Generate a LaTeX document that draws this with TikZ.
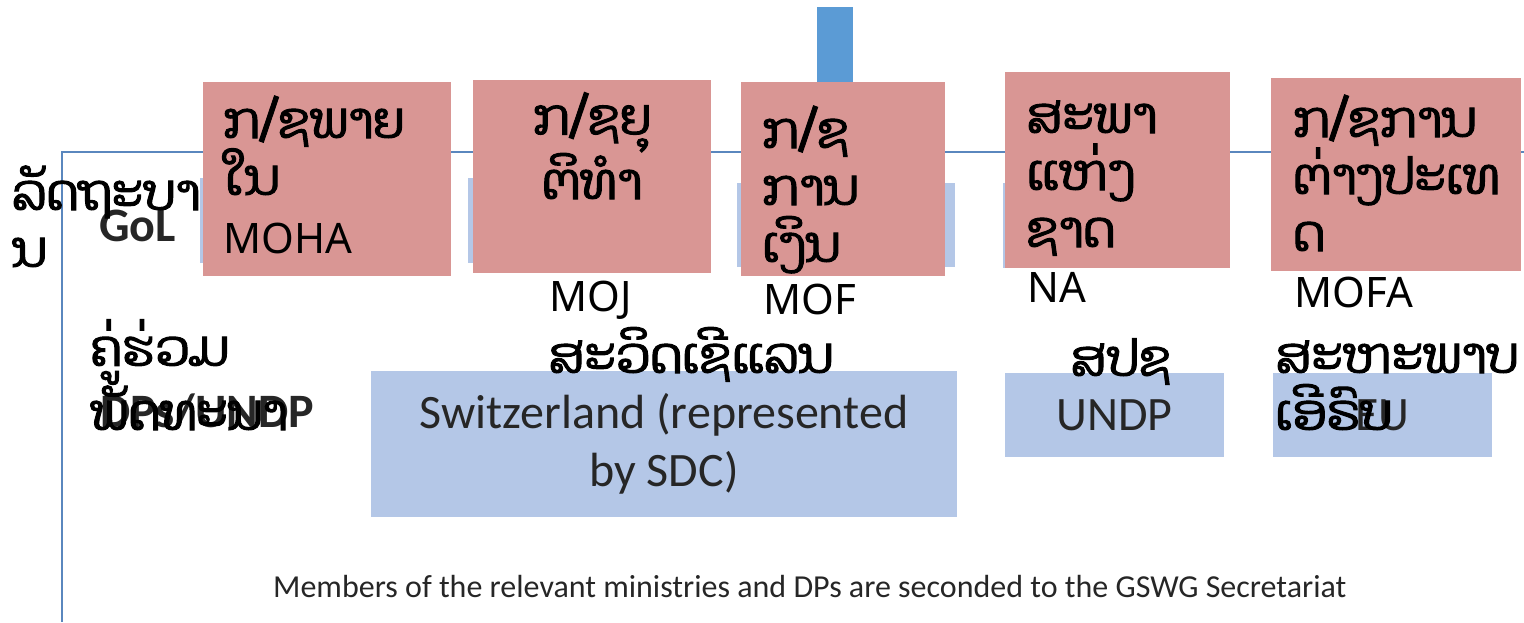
\documentclass[tikz,border=0pt]{standalone}
\usepackage{fontspec}
\setmainfont{Noto Sans}
\newfontfamily\laofont[Script=Lao,FakeBold=2]{Dhyana}
\newfontfamily\califont{Carlito}
\usepackage{tikz}

\definecolor{pinkfill}{HTML}{D99694}
\definecolor{palefill}{HTML}{B4C7E7}
\definecolor{barfill}{HTML}{5B9BD5}
\definecolor{framecol}{HTML}{5A87BE}

\begin{document}
\begin{tikzpicture}
  [x=1pt,y=-1pt,every node/.style={inner sep=0pt},
   pink/.style={fill=pinkfill},
   pale/.style={fill=palefill,font=\califont\fontsize{48}{58}\selectfont,text=black!85,align=center},
   lao/.style={font=\laofont\fontsize{50}{57}\selectfont,align=left,anchor=base west},
   abbr/.style={font=\fontsize{42}{50}\selectfont,anchor=base west},
   tag/.style={font=\califont\bfseries\fontsize{48}{58}\selectfont,text=black!85,anchor=base west}]
  \useasboundingbox (0,0) rectangle (1524,622);

  \coordinate (c0) at (62,152);
  \coordinate (c1) at (1524,152);
  \coordinate (c2) at (62,622);
  \draw[framecol,line width=1.5pt] (c1) -- (c0) -- (c2);

  \node[pale,minimum width=240pt,minimum height=85pt] (g1) at (320,220.5) {};
  \node[pale,minimum width=232pt,minimum height=85pt] (g2) at (584,220.5) {};
  \node[pale,minimum width=218pt,minimum height=84pt] (g3) at (846,225) {};
  \node[pale,minimum width=217pt,minimum height=85pt] (g4) at (1111.5,225.5) {};

  \node[fill=barfill,minimum width=36pt,minimum height=80pt] (bar) at (835,47) {};

  \node[pink,minimum width=248pt,minimum height=194pt] (moha) at (327,179) {};
  \node[pink,minimum width=238pt,minimum height=193pt] (moj) at (592,176.5) {};
  \node[pink,minimum width=204pt,minimum height=194pt] (mof) at (843,179) {};
  \node[pink,minimum width=225pt,minimum height=196pt] (na) at (1117.5,170) {};
  \node[pink,minimum width=250pt,minimum height=193pt] (mofa) at (1396,174.5) {};

  \node[pale,minimum width=586pt,minimum height=146pt] (swiss) at (664,444) {Switzerland (represented\\by SDC)};
  \node[pale,minimum width=219pt,minimum height=84pt] (undp) at (1114.5,415) {UNDP};
  \node[pale,minimum width=219pt,minimum height=84pt] (eu) at (1382.5,415) {EU};

  \node[tag] (gol) at (99,241) {GoL};
  \node[tag] (dps) at (100,427) {DPs/UNDP};

  \node[lao] (gov) at (12,267) {ລັດຖະບາ\\ນ};
  \node[lao] (t1) at (223,195) {ກ/ຊພາຍ\\ໃນ};
  \node[lao,align=center,anchor=base] (t2) at (592,199) {ກ/ຊຍຸ\\ຕິທຳ};
  \node[lao] (t3) at (762,262) {ກ/ຊ\\ການ\\ເງິນ};
  \node[lao] (t4) at (1026,247) {ສະພາ\\ແຫ່ງ\\ຊາດ};
  \node[lao] (t5) at (1293,251) {ກ/ຊການ\\ຕ່າງປະເທ\\ດ};

  \node[abbr] (a1) at (223,253) {MOHA};
  \node[abbr] (a2) at (549,311) {MOJ};
  \node[abbr] (a3) at (763,314) {MOF};
  \node[abbr] (a4) at (1027,302) {NA};
  \node[abbr] (a5) at (1294,307) {MOFA};

  \node[lao] (dp) at (90,430) {ຄູ່ຮ່ວມ\\ພັດທະນາ};
  \node[lao] (s1) at (548,373) {ສະວິດເຊີແລນ};
  \node[lao] (s2) at (1070,376) {ສປຊ};
  \node[lao] (s3) at (1275,430) {ສະຫະພາບ\\ເອີຣົບ};

  \node[font=\califont\fontsize{32}{38}\selectfont,text=black!85,anchor=base west] (note) at (273,597) {Members of the relevant ministries and DPs are seconded to the GSWG Secretariat};
\end{tikzpicture}
\end{document}
